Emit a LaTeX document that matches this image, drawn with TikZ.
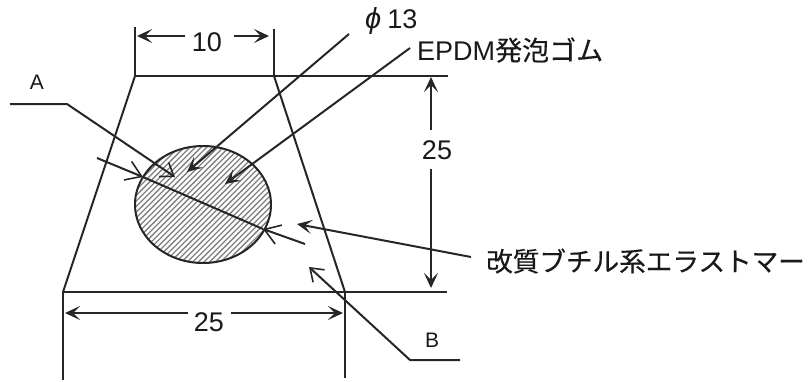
\documentclass[tikz,border=0pt]{standalone}
\usepackage{fontspec}
\setmainfont{Liberation Sans}
\newfontfamily\cjk[FakeBold=0.35]{Noto Sans CJK JP}
\usetikzlibrary{arrows.meta}
\tikzset{
  line/.style={line width=2pt,draw=black!85},
  tip/.style={-{Stealth[length=15pt,width=14pt,inset=7pt]}},
  opentip/.style={-{Straight Barb[length=12pt,width=17pt,line width=1.6pt]}},
  wideopentip/.style={-{Straight Barb[length=15pt,width=20pt,line width=1.6pt]}},
  lab/.style={inner sep=0pt,text=black!90,font=\fontsize{27}{27}\selectfont},
  small/.style={inner sep=0pt,text=black!90,font=\fontsize{21}{21}\selectfont},
}
\begin{document}
\begin{tikzpicture}[x=1pt,y=-1pt]
\useasboundingbox (0,0) rectangle (811,381);
% corners
\coordinate (tl) at (135,76);
\coordinate (tr) at (274,76);
\coordinate (bl) at (63,292);
\coordinate (br) at (345,292);
\coordinate (cc) at (203,204.5);
% hatched circle
\begin{scope}
\clip (cc) ellipse [x radius=68,y radius=58.5];
\foreach \i in {0,...,50}{
  \draw[line width=1.3pt,black!50] (0+5.6*\i,270) -- ++(135,-135);
}
\end{scope}
\draw[line] (cc) ellipse [x radius=68,y radius=58.5];
% body
\draw[line] (tl) -- (bl);
\draw[line] (tr) -- (br);
\coordinate (tx) at (448,76);
\coordinate (bx) at (447,292);
\draw[line] (tl) -- (tx);
\draw[line] (bl) -- (bx);
% extension lines
\coordinate (e1) at (135,27); \coordinate (e2) at (274,29);
\coordinate (e3) at (63,380); \coordinate (e4) at (345,378);
\draw[line] (tl) -- (e1);
\draw[line] (tr) -- (e2);
\draw[line] (bl) -- (e3);
\draw[line] (br) -- (e4);
% dimensions
\node[lab] (d10) at (207,42) {10};
\coordinate (a1) at (137,36); \coordinate (a1s) at (185,36);
\coordinate (a2) at (269,36); \coordinate (a2s) at (234,36);
\draw[line,tip] (a1s) -- (a1);
\draw[line,tip] (a2s) -- (a2);
\node[lab] (d25b) at (209,322) {25};
\coordinate (b1) at (65,313); \coordinate (b1s) at (188,313);
\coordinate (b2) at (343,313); \coordinate (b2s) at (231,313);
\draw[line,tip] (b1s) -- (b1);
\draw[line,tip] (b2s) -- (b2);
\node[lab] (d25r) at (437,150) {25};
\coordinate (c1) at (431,77); \coordinate (c1s) at (431,130);
\coordinate (c2) at (431,288); \coordinate (c2s) at (431,169);
\draw[line,tip] (c1s) -- (c1);
\draw[line,tip] (c2s) -- (c2);
% labels
\node[lab,anchor=west] (phi) at (365,21) {\fontsize{29}{29}\selectfont\textit{ϕ}\hspace{6pt}\fontsize{27}{27}\selectfont 13};
\node[lab,anchor=west] (epdm) at (417,50) {EPDM\cjk 発泡ゴム};
\node[lab,anchor=west] (butyl) at (486,261) {\cjk\fontsize{26.6}{26.6}\selectfont 改質ブチル系エラストマー};
\node[small] (A) at (37,82) {A};
\node[small] (B) at (432,340) {B};
% leaders
\coordinate (p0) at (349,34); \coordinate (p1) at (187,172);
\draw[line,tip] (p0) -- (p1);
\coordinate (q0) at (410,48); \coordinate (q1) at (225,184);
\draw[line,tip] (q0) -- (q1);
\coordinate (r0) at (471,257); \coordinate (r1) at (297,224);
\draw[line,tip] (r0) -- (r1);
\coordinate (a0) at (10,104); \coordinate (a01) at (67,104); \coordinate (a02) at (175,177);
\draw[line,opentip] (a0) -- (a01) -- (a02);
\coordinate (b0) at (460,360); \coordinate (b01) at (410,360); \coordinate (b02) at (309,267);
\draw[line,opentip] (b0) -- (b01) -- (b02);
% section line and thickness arrows
\coordinate (s0) at (143,177); \coordinate (s1) at (263,229);
\draw[line] (s0) -- (s1);
\coordinate (u0) at (97,158); \coordinate (v0) at (305,244);
\draw[line,wideopentip] (u0) -- (s0);
\draw[line,wideopentip] (v0) -- (s1);
\end{tikzpicture}
\end{document}
